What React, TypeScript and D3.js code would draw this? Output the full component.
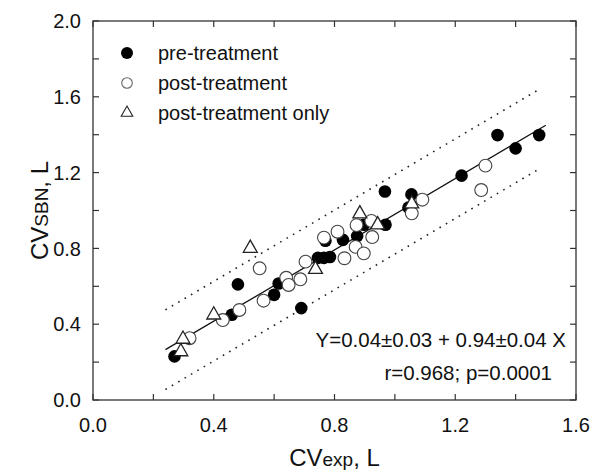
import * as d3 from "d3";

// [CVexp, CVsbn] pairs
const preTreatment: [number, number][] = [
  [0.27, 0.23], [0.46, 0.45], [0.48, 0.61], [0.6, 0.555], [0.615, 0.615],
  [0.69, 0.485], [0.745, 0.75], [0.765, 0.75], [0.785, 0.755], [0.77, 0.84],
  [0.828, 0.845], [0.875, 0.865], [0.897, 0.925], [0.969, 0.925], [0.967, 1.1],
  [1.045, 1.015], [1.055, 1.085], [1.221, 1.184], [1.34, 1.398], [1.4, 1.328],
  [1.478, 1.398],
];
const postTreatment: [number, number][] = [
  [0.32, 0.326], [0.43, 0.422], [0.485, 0.475], [0.552, 0.695], [0.565, 0.524],
  [0.64, 0.645], [0.648, 0.607], [0.687, 0.637], [0.704, 0.73], [0.765, 0.857],
  [0.81, 0.888], [0.833, 0.748], [0.87, 0.808], [0.873, 0.923], [0.897, 0.774],
  [0.925, 0.86], [0.922, 0.945], [1.056, 0.985], [1.091, 1.057], [1.286, 1.108],
  [1.3, 1.237],
];
const postOnly: [number, number][] = [
  [0.291, 0.26], [0.298, 0.326], [0.4, 0.454], [0.521, 0.806], [0.737, 0.695],
  [0.884, 0.988], [0.943, 0.93], [1.056, 1.04],
];

const fit = { a: 0.04, b: 0.94, band: 0.21, x0: 0.24, x1: 1.5, bx1: 1.48 };
const xTicks = d3.range(0, 1.601, 0.2);
const yTicks = d3.range(0, 2.001, 0.2);
const legendItems = ["pre-treatment", "post-treatment", "post-treatment only"];

const W = 594;
const H = 472;
const box = { left: 93, right: 576, top: 21, bottom: 400 };
const FONT = "'Liberation Sans', Arial, sans-serif";

const tri = (cx: number, cy: number, s: number) =>
  `M${cx},${cy - s * 0.6}L${cx + s * 0.58},${cy + s * 0.42}L${cx - s * 0.58},${cy + s * 0.42}Z`;

export default function App() {
  const x = d3.scaleLinear().domain([0, 1.6]).range([box.left, box.right]);
  const y = d3.scaleLinear().domain([0, 2]).range([box.bottom, box.top]);
  const line = d3
    .line<number>()
    .x((d) => x(d))
    .y((d) => y(fit.a + fit.b * d));
  const bandLine = (off: number) =>
    d3
      .line<number>()
      .x((d) => x(d))
      .y((d) => y(fit.a + fit.b * d + off))([fit.x0, fit.bx1]) || "";

  const tickLen = 6;

  return (
    <svg width={W} height={H} style={{ display: "block", position: "absolute", left: 0, top: 0 }} fontFamily={FONT}>
      <rect width={W} height={H} fill="#fff" />
      {/* frame */}
      <rect
        x={box.left}
        y={box.top}
        width={box.right - box.left}
        height={box.bottom - box.top}
        fill="none"
        stroke="#333"
        strokeWidth={1.3}
      />
      {xTicks.map((t, i) => (
        <g key={"xt" + i}>
          <line x1={x(t)} x2={x(t)} y1={box.bottom} y2={box.bottom - tickLen} stroke="#333" strokeWidth={1.2} />
          <line x1={x(t)} x2={x(t)} y1={box.top} y2={box.top + tickLen} stroke="#333" strokeWidth={1.2} />
          {i % 2 === 0 && (
            <text x={x(t)} y={432} fontSize={20} textAnchor="middle" fill="#111">
              {t.toFixed(1)}
            </text>
          )}
        </g>
      ))}
      {yTicks.map((t, i) => (
        <g key={"yt" + i}>
          <line x1={box.left} x2={box.left + tickLen} y1={y(t)} y2={y(t)} stroke="#333" strokeWidth={1.2} />
          <line x1={box.right} x2={box.right - tickLen} y1={y(t)} y2={y(t)} stroke="#333" strokeWidth={1.2} />
          {i % 2 === 0 && (
            <text x={81} y={y(t)} dy="0.36em" fontSize={20} textAnchor="end" fill="#111">
              {t.toFixed(1)}
            </text>
          )}
        </g>
      ))}

      {/* axis titles */}
      <text x={(box.left + box.right) / 2} y={466} textAnchor="middle" fill="#111">
        <tspan fontSize={24}>CV</tspan>
        <tspan fontSize={19}>exp</tspan>
        <tspan fontSize={24}>, L</tspan>
      </text>
      <text
        transform={`translate(48, ${(box.top + box.bottom) / 2}) rotate(-90)`}
        textAnchor="middle"
        fill="#111"
      >
        <tspan fontSize={24}>CV</tspan>
        <tspan fontSize={19}>SBN</tspan>
        <tspan fontSize={24}>, L</tspan>
      </text>

      {/* regression and prediction band */}
      <path d={bandLine(fit.band)} fill="none" stroke="#222" strokeWidth={1.6} strokeDasharray="1.6 5.8" />
      <path d={bandLine(-fit.band)} fill="none" stroke="#222" strokeWidth={1.6} strokeDasharray="1.6 5.8" />
      <path d={line([fit.x0, fit.x1]) || ""} fill="none" stroke="#111" strokeWidth={1.3} />

      {/* points */}
      {preTreatment.map(([a, b], i) => (
        <circle key={"pre" + i} cx={x(a)} cy={y(b)} r={6.3} fill="#000" />
      ))}
      {postTreatment.map(([a, b], i) => (
        <circle key={"post" + i} cx={x(a)} cy={y(b)} r={6.4} fill="#fff" stroke="#444" strokeWidth={1.1} />
      ))}
      {postOnly.map(([a, b], i) => (
        <path key={"po" + i} d={tri(x(a), y(b), 12)} fill="#fff" stroke="#222" strokeWidth={1.3} />
      ))}

      {/* legend */}
      <circle cx={127} cy={53} r={6} fill="#000" />
      <circle cx={127} cy={83} r={5.3} fill="#fff" stroke="#666" strokeWidth={1.1} />
      <path d={tri(127, 112, 10)} fill="#fff" stroke="#222" strokeWidth={1.1} />
      {legendItems.map((s, i) => (
        <text key={s} x={158} y={53 + i * 30} dy="0.36em" fontSize={20} fill="#111">
          {s}
        </text>
      ))}

      {/* fit statistics */}
      <text x={566} y={347} fontSize={20.5} textAnchor="end" fill="#111">
        Y=0.04±0.03 + 0.94±0.04 X
      </text>
      <text x={552} y={380} fontSize={20.5} textAnchor="end" fill="#111">
        r=0.968; p=0.0001
      </text>
    </svg>
  );
}
